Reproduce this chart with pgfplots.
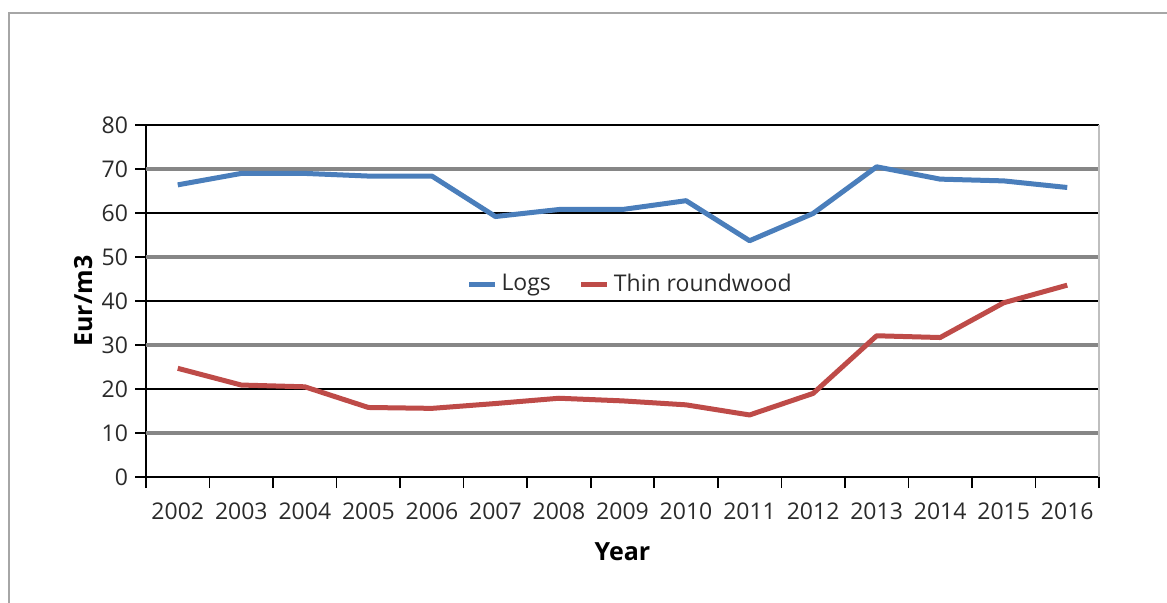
\documentclass[border=0pt]{standalone}
\usepackage{pgfplots}
\pgfplotsset{compat=1.18}
\usepackage{fontspec}
\setmainfont{Open Sans}

\definecolor{logsblue}{HTML}{4A7EBB}
\definecolor{thinred}{HTML}{BE4B48}
\definecolor{gridgray}{HTML}{868686}
\definecolor{framegray}{HTML}{A6A6A6}
\definecolor{labelgray}{HTML}{2A2A2A}

% Average prices (Eur/m3), 2002-2016, years plotted at 0..14
\pgfplotstableread{
idx year logs thin
0  2002 66.4 24.7
1  2003 69.0 20.9
2  2004 69.0 20.5
3  2005 68.4 15.8
4  2006 68.4 15.6
5  2007 59.2 16.7
6  2008 60.8 17.9
7  2009 60.8 17.3
8  2010 62.8 16.4
9  2011 53.7 14.1
10 2012 59.9 19.0
11 2013 70.5 32.1
12 2014 67.7 31.7
13 2015 67.3 39.6
14 2016 65.8 43.6
}\prices

\begin{document}
\begin{tikzpicture}
% chart area frame (top and left edges)
\draw[framegray, line width=1pt] (4.5pt,-301.5pt) -- (4.5pt,-6.5pt) -- (583.5pt,-6.5pt);
\begin{axis}[
  at={(73pt,-238.5pt)}, anchor=south west,
  scale only axis,
  width=476.5pt, height=176pt,
  xmin=-0.5, xmax=14.5,
  ymin=0, ymax=80,
  axis x line=bottom, axis y line=left,
  axis line style={-, black, line width=0.8pt},
  tick align=outside,
  major tick length=5.5pt,
  tick style={black, line width=0.8pt},
  xtick={-0.5,0.5,...,14.5},
  xticklabels={},
  extra x ticks={0,1,...,14},
  extra x tick labels={2002,2003,2004,2005,2006,2007,2008,2009,2010,2011,2012,2013,2014,2015,2016},
  extra x tick style={major tick length=0pt, grid=none},
  ytick={0,20,40,60,80},
  extra y ticks={10,30,50,70},
  extra y tick style={major grid style={gridgray, line width=1.6pt}},
  ymajorgrids,
  major grid style={black, line width=0.8pt},
  /pgf/number format/assume math mode=true,
  ticklabel style={font=\fontsize{11.5}{13}\selectfont, text=labelgray},
  xticklabel style={yshift=-9.5pt},
  xlabel={Year}, ylabel={Eur/m3},
  label style={font=\fontsize{12.5}{14}\selectfont\bfseries, text=black},
  xlabel style={at={(axis description cs:0.5,-0.213)}, anchor=center},
  ylabel style={at={(axis description cs:-0.066,0.5)}, anchor=center},
  legend style={at={(0.509,0.548)}, anchor=center, draw=none, fill=none,
    font=\fontsize{11.5}{13}\selectfont, text=labelgray,
    /tikz/every even column/.append style={column sep=12pt}},
  legend columns=2,
  legend image code/.code={\draw[#1] (0pt,0pt) -- (13pt,0pt);},
  clip=false,
]
\addplot[logsblue, line width=2.5pt, line join=round] table[x=idx, y=logs] {\prices};
\addlegendentry{Logs}
\addplot[thinred, line width=2.5pt, line join=round] table[x=idx, y=thin] {\prices};
\addlegendentry{Thin roundwood}
\draw[black!25, line width=0.8pt] (rel axis cs:1,0) -- (rel axis cs:1,1);
\end{axis}
\pgfresetboundingbox
\path (0pt,0pt) rectangle (583.5pt,-301.5pt);
\end{tikzpicture}
\end{document}
